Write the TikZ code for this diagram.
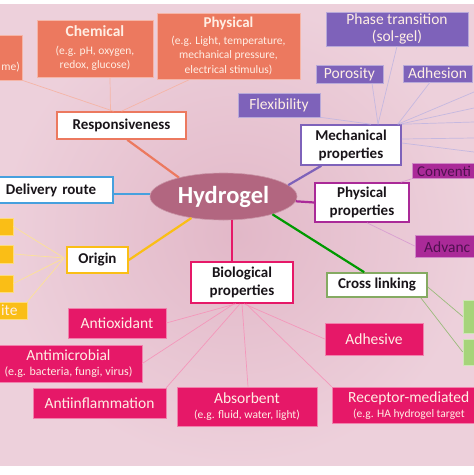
\documentclass[tikz,border=0pt]{standalone}
\usepackage{fontspec}
\setmainfont{Carlito}
\usetikzlibrary{shapes.geometric}
\definecolor{bgin}{RGB}{226,184,200}
\definecolor{bgout}{RGB}{237,208,219}
\definecolor{cor}{RGB}{236,121,95}
\definecolor{pur}{RGB}{126,98,186}
\definecolor{mag}{RGB}{170,42,152}
\definecolor{crim}{RGB}{230,24,104}
\definecolor{yel}{RGB}{250,190,22}
\definecolor{grn}{RGB}{166,212,122}
\definecolor{blu}{RGB}{70,160,222}
\definecolor{hyd}{RGB}{178,102,128}
\definecolor{cream}{RGB}{255,238,228}
\definecolor{darkm}{RGB}{80,16,80}
\definecolor{ink}{RGB}{25,20,25}
\newcommand{\ttl}{\fontsize{15.5}{18}\selectfont}
\begin{document}
\begin{tikzpicture}[x=1pt,y=-1pt,
  fb/.style={inner sep=0pt, align=center, line width=0.6pt, text=cream},
  obox/.style={fb, fill=cor, draw=cor!55!white},
  pbox/.style={fb, fill=pur, draw=pur!55!white},
  mbox/.style={fb, fill=mag, draw=mag!55!white, text=darkm},
  cbox/.style={fb, fill=crim, draw=crim!55!white},
  ybox/.style={fb, fill=yel, draw=yel!55!white},
  gbox/.style={fb, fill=grn, draw=grn!55!white},
  wbox/.style={fill=white, inner sep=0pt, align=center, line width=1.6pt, text=ink,
    font=\bfseries\fontsize{15}{18}\selectfont},
  big/.style={font=\fontsize{15.5}{17}\selectfont},
  small/.style={font=\fontsize{11.5}{14.5}\selectfont},
  thick1/.style={line width=2.2pt},
  thin1/.style={line width=0.7pt}
]
\useasboundingbox (0,0) rectangle (474,475);
\clip (0,0) rectangle (474,475);
\fill[white] (0,0) rectangle (474,475);
\shade[inner color=bgin, outer color=bgout] (0,4) rectangle (474,465);

% ---------- nodes ----------
\node (hydro) [ellipse, fill=hyd, draw=hyd!70!white, line width=0.6pt, minimum width=147pt, minimum height=47pt, inner sep=0pt,
  text=white, font=\bfseries\fontsize{24.5}{26}\selectfont] at (223.5,196.5) {Hydrogel};

\node (resp) [wbox, draw=cor, minimum width=129pt, minimum height=27pt] at (121.5,125.5) {Responsiveness};
\node (mech) [wbox, draw=pur, minimum width=100pt, minimum height=40pt] at (351,145) {Mechanical\\properties};
\node (pprop) [wbox, draw=mag, minimum width=94pt, minimum height=39pt] at (362,202.5) {Physical\\properties};
\node (deliv) [wbox, draw=blu, minimum width=124pt, minimum height=26pt, text width=118pt] at (51,190) {Delivery route};
\node (orig) [wbox, draw=yel, minimum width=61pt, minimum height=26pt] at (97.5,260) {Origin};
\node (cross) [wbox, draw=grn!80!black, minimum width=100pt, minimum height=24pt] at (377,285) {Cross linking};
\node (bio) [wbox, draw=crim, minimum width=102pt, minimum height=41pt] at (242,282.5) {Biological\\properties};

% orange
\node (lo) [obox, minimum width=50pt, minimum height=45pt] at (-3,57.5) {};
\node (lotext) [text=cream, small, anchor=east, inner sep=0pt] at (20,67) {me)};
\node (chem) [obox, small, minimum width=116pt, minimum height=57pt] at (95,48.5)
  {{\bfseries\ttl Chemical}\\[3pt](e.g. pH, oxygen,\\redox, glucose)};
\node (physo) [obox, small, minimum width=143pt, minimum height=66pt] at (228.5,46)
  {{\bfseries\fontsize{15}{18}\selectfont Physical}\\[2pt](e.g. Light, temperature,\\mechanical pressure,\\electrical stimulus)};

% purple
\node (phase) [pbox, minimum width=142pt, minimum height=34pt, font=\fontsize{15.5}{16.5}\selectfont] at (397,29) {Phase transition\\(sol-gel)};
\node (poro) [pbox, minimum width=67pt, minimum height=18pt, big] at (349.5,74) {Porosity};
\node (adhe) [pbox, minimum width=69pt, minimum height=17pt, big] at (437.5,73.5) {Adhesion};
\node (flex) [pbox, minimum width=82pt, minimum height=24pt, big] at (279,105) {Flexibility};

% magenta (physical)
\node (conv) [mbox, minimum width=68pt, minimum height=15pt] at (446,171) {};
\node (convt) [text=darkm, anchor=west, inner sep=0pt, font=\fontsize{15}{16}\selectfont] at (417,171) {Conventi};
\node (adv) [mbox, minimum width=65pt, minimum height=22pt] at (447.5,246) {};
\node (advt) [text=darkm, anchor=west, inner sep=0pt, font=\fontsize{15.5}{16}\selectfont] at (424,247) {Advanc};

% yellow
\node (y1) [ybox, minimum width=23pt, minimum height=17pt] at (1.5,226.5) {};
\node (y2) [ybox, minimum width=23pt, minimum height=18pt] at (1.5,254) {};
\node (y3) [ybox, minimum width=23pt, minimum height=17pt] at (1.5,283.5) {};
\node (y4) [ybox, minimum width=37pt, minimum height=17pt] at (8.5,310.5) {};
\node (y4t) [text=cream, anchor=west, inner sep=0pt, big] at (1,310) {ite};

% green
\node (g1) [gbox, minimum width=17pt, minimum height=33pt] at (471.5,316.5) {};
\node (g2) [gbox, minimum width=17pt, minimum height=26pt] at (471.5,352) {};

% crimson
\node (antiox) [cbox, minimum width=98pt, minimum height=30pt, big] at (117,323) {Antioxidant};
\node (antimic) [cbox, minimum width=147pt, minimum height=37pt, font=\fontsize{12}{15}\selectfont] at (68.5,363.5)
  {{\ttl Antimicrobial}\\(e.g. bacteria, fungi, virus)};
\node (antiinf) [cbox, minimum width=133pt, minimum height=30pt, big] at (99.5,403) {Antiinflammation};
\node (absorb) [cbox, minimum width=140pt, minimum height=39pt, small] at (247,406.5)
  {{\ttl Absorbent}\\[1pt](e.g. fluid, water, light)};
\node (adhs) [cbox, minimum width=98pt, minimum height=32pt, big] at (374,339) {Adhesive};
\node (recep) [cbox, minimum width=148pt, minimum height=36pt] at (406,405) {};
\node (recept1) [text=cream, anchor=west, inner sep=0pt, big] at (348,398) {Receptor-mediated};
\node (recept2) [text=cream, anchor=west, inner sep=0pt, small] at (353,414) {(e.g. HA hydrogel target};

% free ends
\coordinate (e1) at (474,92);
\coordinate (e2) at (474,108);
\coordinate (e3) at (474,122);
\coordinate (e4) at (474,138);
\coordinate (e5) at (474,152);

% ---------- thin connectors ----------
\path (resp.north) ++(-8,0) coordinate (r0);
\draw[thin1, cor!55!white] (r0) -- (lo.south east);
\draw[thin1, cor!55!white] (resp.north) ++(-11,0) -- (chem.south -| 110,0);
\draw[thin1, cor!55!white] (resp.north) -- (physo.south -| 190,0);

\path (mech.north) ++(27,0) coordinate (m0);
\draw[thin1, pur!45!white] (m0) -- (phase.south);
\draw[thin1, pur!45!white] (m0) -- (poro.south -| 372,0);
\draw[thin1, pur!45!white] (mech.north) ++(20,0) -- (flex.south east);
\draw[thin1, pur!45!white] (mech.north east) ++(-4,0) -- (adhe.south -| 430,0);
\draw[thin1, pur!45!white] (mech.north east) ++(-4,0) -- (e1);
\draw[thin1, pur!45!white] (mech.north east) ++(-2,0) -- (e2);
\draw[thin1, pur!45!white] (mech.north east) -- (e3);
\draw[thin1, pur!45!white] (mech.east) ++(0,-6) -- (e4);
\draw[thin1, pur!45!white] (mech.east) ++(0,-2) -- (e5);

\draw[thin1, mag!45!white] (pprop.north east) ++(-9,0) -- (conv.south west);
\draw[thin1, mag!45!white] (pprop.south) ++(5,0) -- (adv.west);

\draw[thin1, grn!70!gray] (cross.east) ++(0,2) -- (g1.west);
\draw[thin1, grn!70!gray] (cross.south east) ++(-7,0) -- (g2.west);

\path (orig.west) ++(-2,-2) coordinate (o0);
\draw[thin1, yel!45!white] (o0) -- (y1.east);
\draw[thin1, yel!45!white] (o0) -- (y2.east);
\draw[thin1, yel!45!white] (o0) -- (y3.east);
\draw[thin1, yel!45!white] (o0) -- (y4.north east);

\draw[thin1, crim!45!white] (bio.south) ++(-6,0) -- (antiox.east);
\draw[thin1, crim!45!white] (bio.south) ++(-8,0) -- (antimic.east);
\draw[thin1, crim!45!white] (bio.south) ++(-2,0) -- (antiinf.north east);
\draw[thin1, crim!45!white] (bio.south) -- (absorb.north -| 248,0);
\draw[thin1, crim!45!white] (bio.south) ++(2,0) -- (adhs.west);
\draw[thin1, crim!45!white] (bio.south) ++(4,0) -- (recep.north west);

% ---------- thick connectors ----------
\draw[thick1, cor] (resp.-68) -- (hydro.157);
\draw[thick1, blu] (deliv.east |- 0,194) -- (hydro.west |- 0,194);
\draw[thick1, yel] (orig.east) -- (hydro);
\draw[thick1, crim] (bio.north -| 232,0) -- (hydro.south -| 232,0);
\draw[thick1, pur] (mech.-145) -- (hydro.10);
\draw[thick1, mag] (pprop.west) -- (hydro);
\draw[thick1, green!60!black] (cross.135) -- (hydro.-20);
\end{tikzpicture}
\end{document}
